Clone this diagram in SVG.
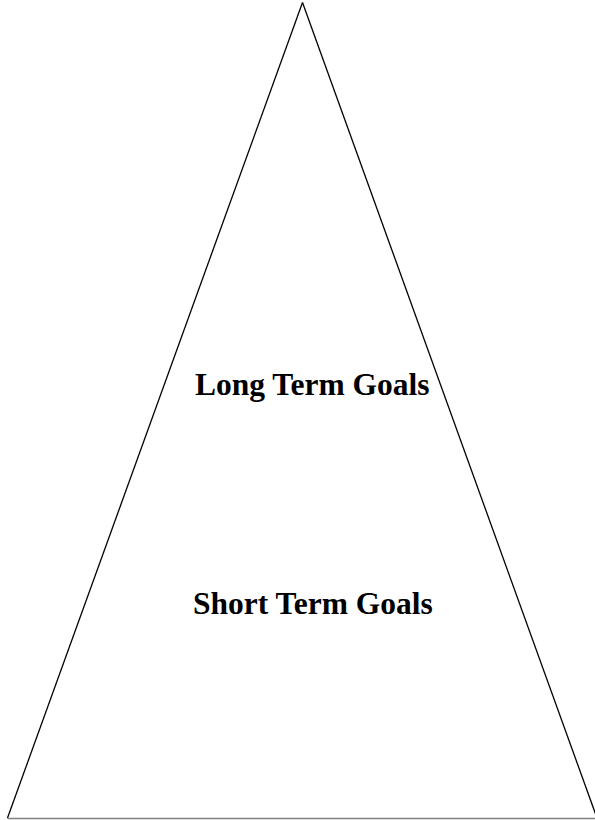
<svg xmlns="http://www.w3.org/2000/svg" width="595" height="820" viewBox="0 0 595 820">
<style>
.lbl{font-family:"Liberation Serif","Times New Roman",serif;font-weight:bold;font-size:31.5px;fill:#000}
.side{stroke:#000;stroke-width:1.3;fill:none}
</style>
<rect width="595" height="820" fill="#fff"/>
<g id="pyramid">
<line class="side" x1="302.5" y1="2.5" x2="7.5" y2="818"/>
<line class="side" x1="302.5" y1="2.5" x2="597" y2="818"/>
<line x1="7.5" y1="818.5" x2="597" y2="818.5" stroke="#808080" stroke-width="1.3"/>
</g>
<g id="long-term"><text class="lbl" x="195" y="394.5">Long Term Goals</text></g>
<g id="short-term"><text class="lbl" x="193" y="614">Short Term Goals</text></g>
</svg>
